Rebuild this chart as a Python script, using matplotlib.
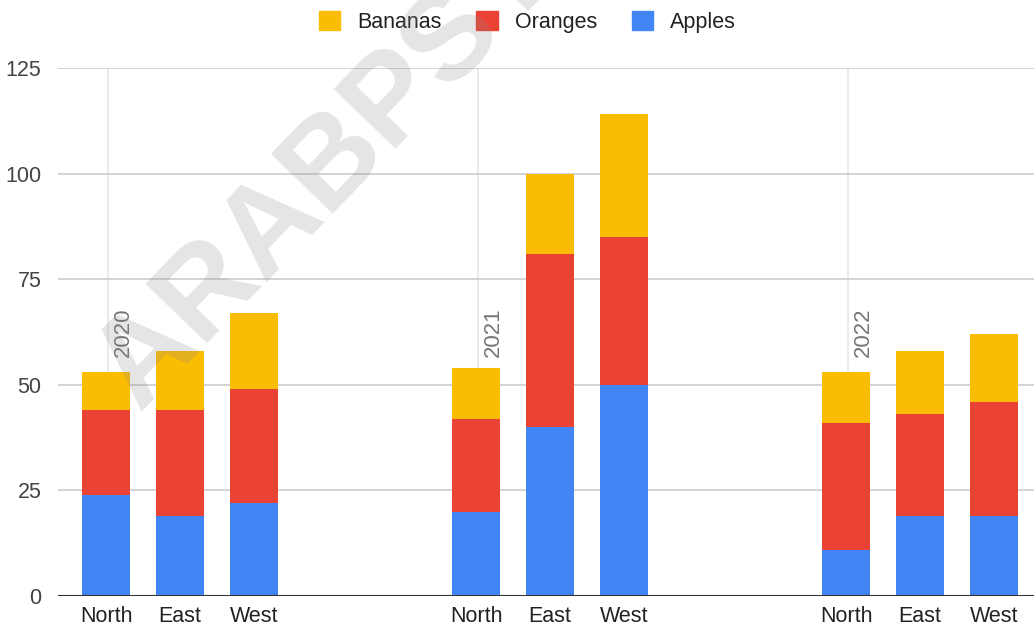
import matplotlib.pyplot as plt
from matplotlib.patches import Patch
import numpy as np

plt.rcParams['font.family'] = ['Liberation Sans', 'DejaVu Sans']

years = ['2020', '2021', '2022']
regions = ['North', 'East', 'West']
apples = [24, 19, 22, 20, 40, 50, 11, 19, 19]
oranges = [20, 25, 27, 22, 41, 35, 30, 24, 27]
bananas = [9, 14, 18, 12, 19, 29, 12, 15, 16]

blue = '#4285f4'
red = '#ea4335'
yellow = '#fbbc04'

# bar slots: three bars per year, two empty slots between years
pos = np.array([g * 5 + i for g in range(3) for i in range(3)])
apples = np.array(apples)
oranges = np.array(oranges)
bananas = np.array(bananas)

fig = plt.figure(figsize=(10.34, 6.27), dpi=100)
ax = fig.add_axes([58 / 1034, 31 / 627, 1 - 58 / 1034, (596 - 68) / 627])

w = 0.65
ax.bar(pos, apples, w, color=blue, zorder=3)
ax.bar(pos, oranges, w, bottom=apples, color=red, zorder=3)
ax.bar(pos, bananas, w, bottom=apples + oranges, color=yellow, zorder=3)

ax.set_ylim(0, 125)
ax.set_xlim(-0.65, 12.54)
ax.set_yticks([0, 25, 50, 75, 100, 125])
ax.yaxis.grid(True, color='#cccccc', linewidth=1.2, zorder=0)
ax.axhline(0, color='#333333', linewidth=1.5, zorder=4)

for g, yr in enumerate(years):
    x0 = g * 5
    ax.axvline(x0 + 0.03, color='#e6e6e6', linewidth=1.2, zorder=1)
    ax.text(x0 + 0.24, 56.5, yr, rotation=90, ha='center', va='bottom',
            color='#757575', fontsize=16, zorder=5)

ax.set_xticks(pos)
ax.set_xticklabels(regions * 3, fontsize=15.5, color='#222222')
ax.tick_params(axis='x', length=0, pad=7)
ax.tick_params(axis='y', length=0, pad=12, labelsize=15.5, labelcolor='#444444')
for s in ax.spines.values():
    s.set_visible(False)

handles = [Patch(color=yellow, label='Bananas'),
           Patch(color=red, label='Oranges'),
           Patch(color=blue, label='Apples')]
fig.legend(handles=handles, loc='center', bbox_to_anchor=(0.51, 1 - 22 / 627),
           ncol=3, frameon=False, fontsize=15.5, handlelength=1.0, handleheight=1.0,
           handletextpad=0.8, columnspacing=1.6, labelcolor='#222222')

# watermark
fig.text(0.318, 0.73, 'ARABPSY', rotation=46, fontsize=90, fontweight='bold',
         color='#888888', alpha=0.22, ha='center', va='center', zorder=10)

fig.savefig('out.png', dpi=100)
